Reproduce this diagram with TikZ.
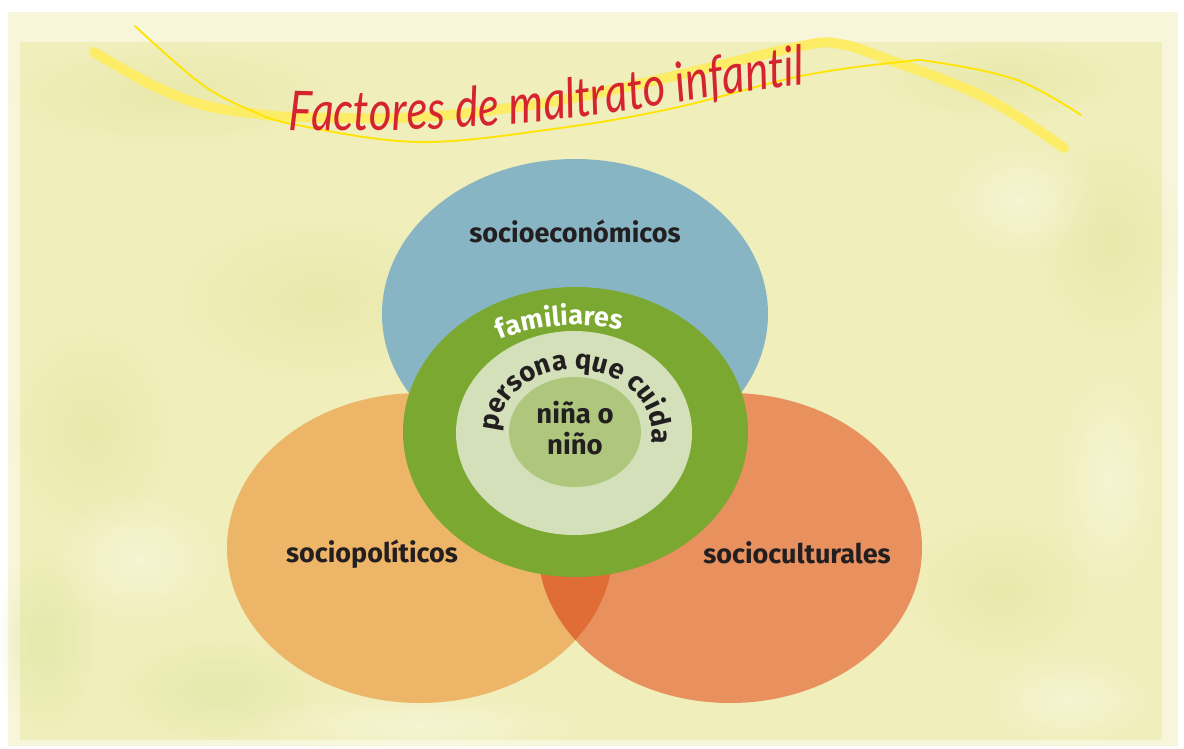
\documentclass[tikz,border=0pt]{standalone}
\usepackage{fontspec}
\usetikzlibrary{decorations.text,fadings}
\newfontfamily\firafam{Fira Sans}
\newfontfamily\titlefam{Lato}[FakeStretch=0.8]
\newcommand\lblf{\firafam\bfseries\fontsize{27}{32}\selectfont}
\newcommand\innerf{\firafam\bfseries\fontsize{27.5}{32}\selectfont}
\newcommand\titlef{\titlefam\itshape\fontsize{55}{60}\selectfont}
\tikzfading[name=softblob, inner color=transparent!0, outer color=transparent!100]
\definecolor{bgmain}{HTML}{F0EEBA}
\definecolor{bgpale}{HTML}{F8F6DA}
\definecolor{bgdark}{HTML}{E4E6A2}
\definecolor{bggreen}{HTML}{DCE6A4}
\definecolor{bglight}{HTML}{FBF9E2}
\definecolor{ecoblue}{HTML}{88B5C4}
\definecolor{polorange}{HTML}{EDB567}
\definecolor{culorange}{HTML}{E8905E}
\definecolor{overlaporange}{HTML}{E06D36}
\definecolor{famgreen}{HTML}{7BA831}
\definecolor{carelight}{HTML}{D3E0B9}
\definecolor{childgreen}{HTML}{AFC67D}
\definecolor{labeltext}{HTML}{231F20}
\definecolor{titlered}{HTML}{D52330}
\definecolor{bandyellow}{HTML}{FCEC66}
\definecolor{lineyellow}{HTML}{FFE400}
\tikzset{
  lbl/.style={font=\lblf, text=labeltext, inner sep=0pt, anchor=base},
  innerlbl/.style={font=\innerf, text=labeltext, inner sep=0pt, anchor=base},
  blob/.style={path fading=softblob, fill opacity=0.6},
}
\begin{document}
\begin{tikzpicture}[x=1pt,y=-1pt]
\useasboundingbox (0,0) rectangle (1184,748);
% background
\fill[white] (0,0) rectangle (1184,748);
\fill[bgpale] (8,12) rectangle (1178,746);
\fill[bgmain] (20,42) rectangle (1162,740);
\fill[bgdark, blob] (170,95) ellipse [x radius=160, y radius=50];
\fill[bgdark, blob] (320,300) ellipse [x radius=140, y radius=80];
\fill[bgdark, blob] (90,430) ellipse [x radius=80, y radius=100];
\fill[bggreen, blob] (45,640) ellipse [x radius=50, y radius=90];
\fill[bggreen, blob] (220,690) ellipse [x radius=100, y radius=50];
\fill[bgdark, blob] (1000,80) ellipse [x radius=120, y radius=40];
\fill[bgdark, blob] (1110,240) ellipse [x radius=70, y radius=100];
\fill[bgdark, blob] (1000,590) ellipse [x radius=90, y radius=70];
\fill[bglight, blob] (1020,200) ellipse [x radius=80, y radius=60];
\fill[bglight, blob] (1110,480) ellipse [x radius=60, y radius=120];
\fill[bglight, blob] (420,725) ellipse [x radius=180, y radius=35];
\fill[bglight, blob] (140,560) ellipse [x radius=90, y radius=70];
\fill[bglight, blob] (1070,700) ellipse [x radius=90, y radius=50];
% yellow swooshes
\draw[bandyellow, line width=10pt, line cap=round]
  plot[smooth, tension=0.6] coordinates {(94,52) (150,84) (200,104) (250,113) (300,117) (420,117) (550,102) (674,76) (801,46) (840,44) (884,58) (984,97) (1064,148)};
\draw[lineyellow, line width=1.8pt, line cap=round]
  plot[smooth, tension=0.6] coordinates {(135,26) (200,83) (250,110) (297,125) (420,142) (560,128) (674,108) (801,76) (900,62) (934,62) (1017,80) (1081,115)};
% title
\path[decorate, decoration={text along path, text align=left,
  text={|\titlef\color{titlered}|Factores de maltrato infantil}}]
  (288,130) .. controls (420,134) and (560,124) .. (680,102) .. controls (740,91) and (800,84) .. (880,80);
% Venn ellipses
\fill[ecoblue] (575,314) ellipse [x radius=193, y radius=155];
\fill[polorange] (420,548) ellipse [x radius=193, y radius=155];
\fill[culorange] (730,548) ellipse [x radius=192, y radius=155];
\begin{scope}
  \clip (730,548) ellipse [x radius=192, y radius=155];
  \fill[overlaporange] (420,548) ellipse [x radius=193, y radius=155];
\end{scope}
\fill[famgreen] (575.5,432) ellipse [x radius=172.5, y radius=145];
\fill[carelight] (574,433) ellipse [x radius=118, y radius=102];
\fill[childgreen] (575,432) ellipse [x radius=66, y radius=55];
% labels
\node[lbl] (eco) at (575,242) {socioeconómicos};
\node[lbl] (pol) at (372,562) {sociopolíticos};
\node[lbl] (cul) at (797,563) {socioculturales};
\node[innerlbl] (nina) at (575,423) {niña o};
\node[innerlbl] (nino) at (575,454) {niño};
\path[decorate, decoration={text along path, text align=center,
  text={|\lblf\color{white}|familiares}}]
  (575,433) ++(223.5:150 and 108) arc[start angle=223.5, end angle=303.5, x radius=150, y radius=108];
\path[decorate, decoration={text along path, text align=center,
  text={|\innerf\color{labeltext}|persona que cuida}}]
  (575,433) ++(160:77 and 64) arc[start angle=160, end angle=390, x radius=77, y radius=64];
\end{tikzpicture}
\end{document}
